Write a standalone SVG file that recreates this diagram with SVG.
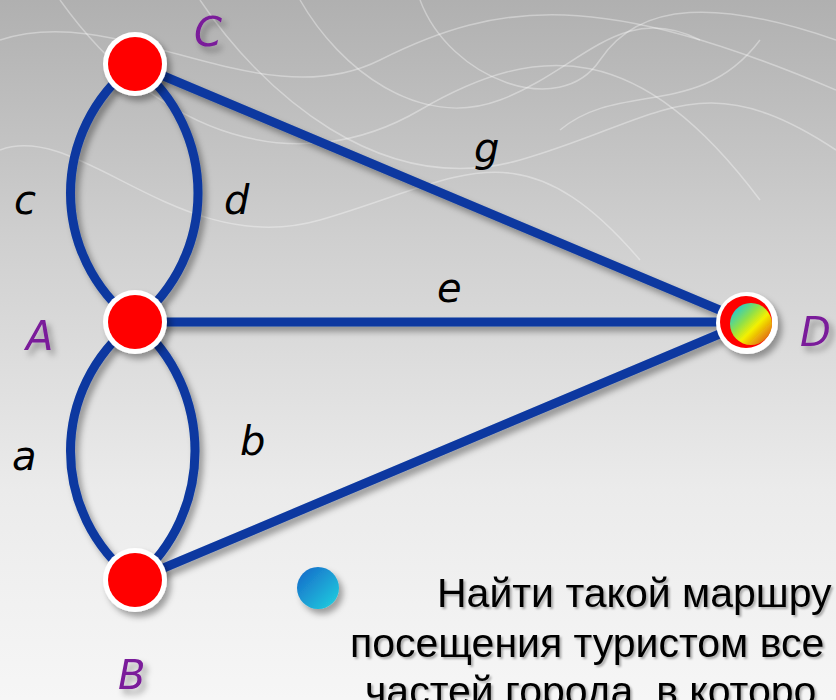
<svg xmlns="http://www.w3.org/2000/svg" width="836" height="700" viewBox="0 0 836 700">
<defs>
<linearGradient id="bg" x1="0" y1="0" x2="0" y2="1">
<stop offset="0" stop-color="#b0b0b0"/>
<stop offset="0.35" stop-color="#d0d0d0"/>
<stop offset="0.7" stop-color="#ebebeb"/>
<stop offset="1" stop-color="#f6f6f6"/>
</linearGradient>
<linearGradient id="sphere" x1="0.1" y1="0.1" x2="0.9" y2="0.9">
<stop offset="0" stop-color="#1ec8d8"/>
<stop offset="0.35" stop-color="#8fe04a"/>
<stop offset="0.6" stop-color="#f4f000"/>
<stop offset="1" stop-color="#e06010"/>
</linearGradient>
<linearGradient id="bullet" x1="0" y1="0" x2="1" y2="1">
<stop offset="0" stop-color="#1565c8"/>
<stop offset="1" stop-color="#22d4e0"/>
</linearGradient>
<filter id="sh" x="-30%" y="-30%" width="160%" height="160%">
<feDropShadow dx="4" dy="5" stdDeviation="3" flood-color="#000" flood-opacity="0.35"/>
</filter>
<filter id="tsh" x="-10%" y="-30%" width="120%" height="160%">
<feDropShadow dx="2" dy="2" stdDeviation="1" flood-color="#000" flood-opacity="0.3"/>
</filter>
<style>
.edge{fill:none;stroke:#0a38a0;stroke-width:9;stroke-linecap:round}
.ring{fill:#fff}
.red{fill:#ff0000}
.lbl{font-family:"DejaVu Sans",sans-serif;font-style:italic;font-size:40px;fill:#000}
.vl{font-family:"DejaVu Sans",sans-serif;font-style:italic;font-size:40px;fill:#7a1a9a}
.txt{font-family:"Liberation Sans",Arial,sans-serif;font-size:41px;fill:#000}
.wisp{fill:none;stroke:#fff;stroke-opacity:0.35;stroke-width:1.5}
</style>
</defs>
<rect width="836" height="700" fill="url(#bg)"/>
<g id="background-wisps">
<path class="wisp" d="M0,40 C120,0 260,120 380,60 S600,-10 836,90"/>
<path class="wisp" d="M60,0 C160,140 300,180 420,110 S640,40 760,200"/>
<path class="wisp" d="M200,0 C260,90 380,200 520,160 S700,60 836,150"/>
<path class="wisp" d="M300,0 C340,70 420,130 500,100 S620,0 700,40"/>
<path class="wisp" d="M0,150 C80,120 180,260 320,220 S520,120 640,260"/>
<path class="wisp" d="M420,0 C450,80 560,120 600,60 S720,0 836,40"/>
<path class="wisp" d="M560,130 C620,80 700,120 760,40"/>
</g>
<g id="edges" filter="url(#sh)">
<path id="edge-c" class="edge" d="M135,64 C49,130 49,256 135,322"/>
<path id="edge-d" class="edge" d="M135,64 C219,130 219,256 135,322"/>
<path id="edge-a" class="edge" d="M135,322 C49,388 49,514 135,580"/>
<path id="edge-b" class="edge" d="M135,322 C215,388 215,514 135,580"/>
<path id="edge-g" class="edge" d="M135,64 L748,322"/>
<path id="edge-e" class="edge" d="M135,322 L748,322"/>
<path id="edge-f" class="edge" d="M135,580 L748,322"/>
</g>
<g id="edge-labels">
<text class="lbl" x="14" y="214">c</text>
<text class="lbl" x="224" y="214">d</text>
<text class="lbl" x="474" y="162">g</text>
<text class="lbl" x="437" y="302">e</text>
<text class="lbl" x="12" y="470">a</text>
<text class="lbl" x="240" y="455">b</text>
</g>
<g id="node-C" filter="url(#sh)">
<circle class="ring" cx="135" cy="64" r="32"/>
<circle class="red" cx="135" cy="64" r="27"/>
<text class="vl" x="194" y="46">C</text>
</g>
<g id="node-A" filter="url(#sh)">
<circle class="ring" cx="135" cy="322" r="32"/>
<circle class="red" cx="135" cy="322" r="27"/>
<text class="vl" x="26" y="350">A</text>
</g>
<g id="node-B" filter="url(#sh)">
<circle class="ring" cx="135" cy="580" r="32"/>
<circle class="red" cx="135" cy="580" r="27"/>
<text class="vl" x="118" y="689">B</text>
</g>
<g id="node-D" filter="url(#sh)">
<circle class="ring" cx="747" cy="323" r="31"/>
<circle class="red" cx="746" cy="322" r="26"/>
<circle cx="751" cy="324" r="21" fill="url(#sphere)"/>
<text class="vl" x="800" y="346">D</text>
</g>
<g id="text-block">
<circle cx="318" cy="588" r="21" fill="url(#bullet)" filter="url(#sh)"/>
<g filter="url(#tsh)">
<text class="txt" x="437" y="607">Найти такой маршру</text>
<text class="txt" x="350" y="657">посещения туристом все</text>
<text class="txt" x="365" y="705">частей города, в которо</text>
</g>
</g>
</svg>
